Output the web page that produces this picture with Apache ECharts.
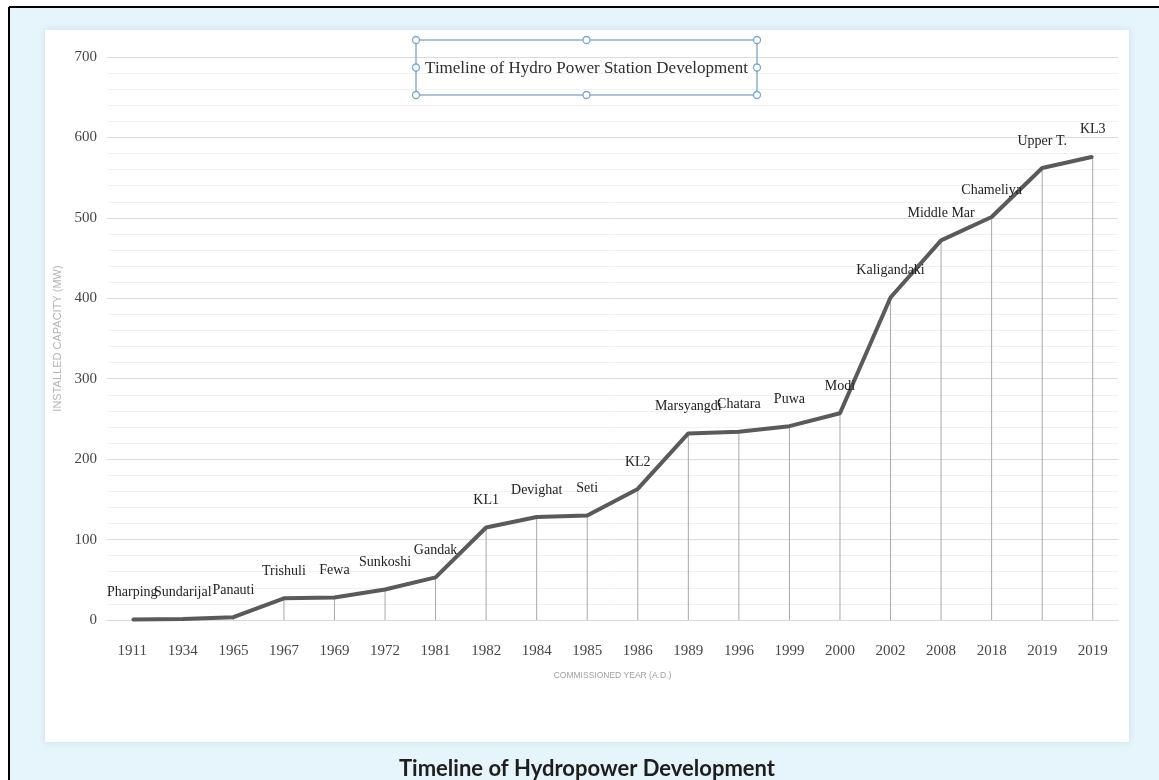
<!DOCTYPE html>
<html>
<head>
<meta charset="utf-8">
<title>Timeline of Hydropower Development</title>
<script src="https://cdn.jsdelivr.net/npm/echarts@6/dist/echarts.min.js"></script>
<style>
  html, body { margin: 0; padding: 0; background: #ffffff; }
  #chart { width: 1159px; height: 780px; }
</style>
</head>
<body>
<div id="chart"></div>
<script>
// Commissioned year of each station (category axis)
const years = ['1911', '1934', '1965', '1967', '1969', '1972', '1981', '1982', '1984', '1985',
  '1986', '1989', '1996', '1999', '2000', '2002', '2008', '2018', '2019', '2019'];

// Station name shown above each point
const stations = ['Pharping', 'Sundarijal', 'Panauti', 'Trishuli', 'Fewa', 'Sunkoshi', 'Gandak', 'KL1',
  'Devighat', 'Seti', 'KL2', 'Marsyangdi', 'Chatara', 'Puwa', 'Modi', 'Kaligandaki',
  'Middle Mar', 'Chameliya', 'Upper T.', 'KL3'];

// Cumulative installed capacity (MW)
const capacity = [0.5, 1.1, 3.5, 27, 28, 38, 53, 115, 128, 130,
  163, 232, 234, 241, 257, 401, 472, 501, 562, 576];

// Value axis ticks
const yMin = 0, yMax = 700, yStep = 100;

const serif = '"Liberation Serif", "DejaVu Serif", serif';

const chart = echarts.init(document.getElementById('chart'), null, { renderer: 'canvas' });

// Title box with selection handles around it
const box = { x: 416, y: 40, w: 341, h: 55 };
const handlePts = [
  [0, 0], [0.5, 0], [1, 0], [1, 0.5], [1, 1], [0.5, 1], [0, 1], [0, 0.5]
];
const handles = handlePts.map(p => ({
  type: 'circle',
  shape: { cx: box.x + p[0] * box.w, cy: box.y + p[1] * box.h, r: 3.5 },
  style: { fill: '#ffffff', stroke: '#7fa6c6', lineWidth: 1.3 },
  z: 12
}));

chart.setOption({
  backgroundColor: '#ffffff',
  animation: false,
  graphic: [
    // page frame
    { type: 'rect', shape: { x: 9, y: 8, width: 1150, height: 772 },
      style: { fill: '#e6f4fb' }, z: -10 },
    { type: 'line', shape: { x1: 9, y1: 7, x2: 1159, y2: 7 },
      style: { stroke: '#000000', lineWidth: 2 }, z: -5 },
    { type: 'line', shape: { x1: 9, y1: 7, x2: 9, y2: 780 },
      style: { stroke: '#000000', lineWidth: 2 }, z: -5 },
    // white chart panel
    { type: 'rect', shape: { x: 45, y: 30, width: 1084, height: 712 },
      style: { fill: '#ffffff', shadowBlur: 6, shadowColor: 'rgba(150,180,200,0.35)' }, z: -8 },
    // chart title in its box
    { type: 'rect', shape: { x: box.x, y: box.y, width: box.w, height: box.h },
      style: { fill: 'rgba(255,255,255,0)', stroke: '#8fb0c8', lineWidth: 1.5 }, z: 11 },
    ...handles,
    { type: 'text', x: box.x + box.w / 2, y: box.y + box.h / 2 + 1,
      style: { text: 'Timeline of Hydro Power Station Development', font: '17px ' + serif,
        fill: '#2e2e2e', align: 'center', verticalAlign: 'middle' }, z: 12 },
    // caption below the panel
    { type: 'text', x: 587, y: 758,
      style: { text: 'Timeline of Hydropower Development', font: 'bold 22px Lato, "Open Sans", sans-serif',
        fill: '#1e1e1e', align: 'center', verticalAlign: 'top' }, z: 12 }
  ],
  grid: { left: 107, right: 41, top: 57, bottom: 160, containLabel: false },
  xAxis: {
    type: 'category',
    data: years,
    boundaryGap: true,
    name: 'COMMISSIONED YEAR (A.D.)',
    nameLocation: 'middle',
    nameGap: 51,
    nameTextStyle: { fontSize: 8.5, color: '#a0a0a0', fontFamily: '"Liberation Sans", sans-serif' },
    axisLine: { show: true, lineStyle: { color: '#d9d9d9', width: 1 } },
    axisTick: { show: false },
    axisLabel: { interval: 0, margin: 24, fontFamily: serif, fontSize: 15, color: '#474747' },
    splitLine: { show: false }
  },
  yAxis: {
    type: 'value',
    min: yMin,
    max: yMax,
    interval: yStep,
    name: 'INSTALLED CAPACITY (MW)',
    nameLocation: 'middle',
    nameRotate: 90,
    nameGap: 34,
    nameTextStyle: { fontSize: 11, color: '#b4b4b4', fontFamily: '"Liberation Sans", sans-serif' },
    axisLine: { show: false },
    axisTick: { show: false },
    axisLabel: { margin: 10, fontFamily: serif, fontSize: 15, color: '#474747' },
    splitLine: { show: true, lineStyle: { color: '#dcdcdc', width: 1 } },
    minorTick: { show: false, splitNumber: 5 },
    minorSplitLine: { show: true, lineStyle: { color: '#f1f1f1', width: 1 } }
  },
  series: [
    {
      // drop lines from each point down to the axis
      type: 'bar',
      data: capacity,
      barWidth: 1,
      silent: true,
      itemStyle: { color: '#a8a8a8' },
      z: 1
    },
    {
      type: 'line',
      data: capacity.map((v, i) => ({ value: v, label: { formatter: stations[i] } })),
      symbol: 'circle',
      symbolSize: 2,
      itemStyle: { color: '#5a5a5a' },
      lineStyle: { color: '#5a5a5a', width: 4 },
      label: {
        show: true,
        position: 'top',
        distance: 19,
        fontFamily: serif,
        fontSize: 14,
        color: '#222222'
      },
      z: 5
    }
  ]
});
</script>
</body>
</html>
